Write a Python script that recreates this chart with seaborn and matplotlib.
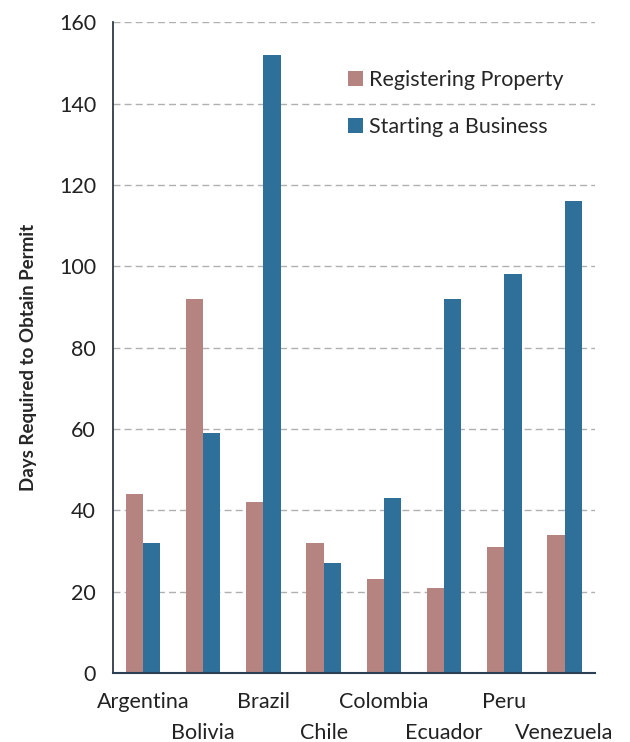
import pandas as pd
import seaborn as sns
import matplotlib.pyplot as plt

# Days required
countries = ['Argentina', 'Bolivia', 'Brazil', 'Chile', 'Colombia', 'Ecuador', 'Peru', 'Venezuela']
registering_property = [44, 92, 42, 32, 23, 21, 31, 34]
starting_business = [32, 59, 152, 27, 43, 92, 98, 116]
series_names = ['Registering Property', 'Starting a Business']
y_ticks = [0, 20, 40, 60, 80, 100, 120, 140, 160]

df = pd.DataFrame({
    'Country': countries * 2,
    'Days': registering_property + starting_business,
    'Series': [series_names[0]] * len(countries) + [series_names[1]] * len(countries),
})

sns.set_style('white')
plt.rcParams['font.family'] = ['Lato', 'DejaVu Sans']

fig = plt.figure(figsize=(6.3, 7.42), dpi=100)
ax = fig.add_axes([0.179, 0.093, 0.765, 0.877])

palette = {series_names[0]: '#b58480', series_names[1]: '#2f709b'}
sns.barplot(data=df, x='Country', y='Days', hue='Series', order=countries,
            hue_order=series_names, palette=palette, width=0.57, gap=0,
            saturation=1, linewidth=0, ax=ax)

ax.set_ylim(0, 160)
ax.set_xlim(-0.5, len(countries) - 0.5)
ax.set_yticks(y_ticks)
ax.yaxis.grid(True, linestyle=(0, (5, 3)), color='#b0b0b0', linewidth=1)
ax.set_axisbelow(True)
ax.tick_params(axis='y', length=0, pad=12, labelsize=15.5, labelcolor='#222222')
ax.tick_params(axis='x', length=0, labelsize=15.5, labelcolor='#222222')

# staggered country labels
ax.set_xticks(range(len(countries)))
ax.set_xticklabels(countries)
for i, tick in enumerate(ax.xaxis.get_major_ticks()):
    tick.set_pad(14 if i % 2 == 0 else 36)

ax.set_xlabel('')
ax.set_ylabel('Days Required to Obtain Permit', fontsize=13.5, fontweight='bold',
              fontstretch='condensed',
              family=['Liberation Sans Narrow', 'Lato'])
ax.yaxis.set_label_coords(-0.158, 0.485)

for side in ['top', 'right']:
    ax.spines[side].set_visible(False)
ax.spines['left'].set_color('#1f2a36')
ax.spines['bottom'].set_color('#2b3f55')
ax.spines['left'].set_linewidth(1.2)
ax.spines['bottom'].set_linewidth(1.5)

leg = ax.legend(loc='upper left', bbox_to_anchor=(0.488, 0.927), frameon=False,
                fontsize=15.5, handlelength=0.7, handleheight=0.7, handletextpad=0.3,
                labelspacing=1.25, borderpad=0, borderaxespad=0)

fig.savefig('out.png', dpi=100)
